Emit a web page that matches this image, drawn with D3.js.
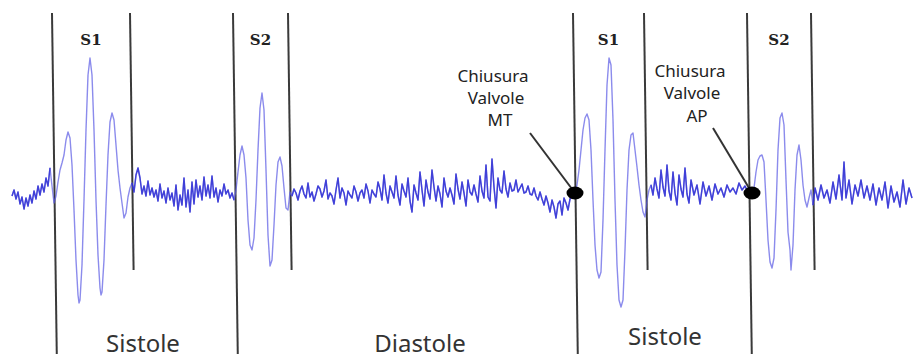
<!DOCTYPE html>
<html>
<head>
<meta charset="utf-8">
<script src="https://cdn.jsdelivr.net/npm/d3@7/dist/d3.min.js"></script>
<style>
  html, body { margin: 0; padding: 0; background: #fff; }
  svg { display: block; }
</style>
</head>
<body>
<svg id="pcg" width="914" height="358"></svg>
<script>
// Phonocardiogram trace: [time, amplitude] samples, split by cardiac phase.
const leadIn = [[12,-1],[14,5],[16,-4],[18,3],[20,-9],[22,-2],[24,-14],[26,-3],[28,-11],[30,0],[32,-8],[34,4],[36,-4],[38,9],[40,0],[42,11],[44,3],[46,17],[48,9],[50,27]];
const s1First = [[52,9],[54,-8],[56,-1],[58,13],[60,25],[62,32],[64,40],[66,55],[68,63],[70,57],[72,30],[74,-15],[76,-65],[78,-100],[79,-108],[80,-105],[82,-70],[84,-5],[86,65],[88,120],[90,137],[92,120],[94,65],[96,-5],[98,-60],[100,-93],[101,-100],[102,-97],[104,-65],[106,-10],[108,40],[110,73],[112,82],[114,75],[116,50],[118,25],[120,7],[122,-8],[124,-23],[126,-18],[128,-2],[130,7]];
const systoleNoiseFirst = [[132,12],[134,3],[136,20],[138,27],[140,17],[142,1],[144,9],[146,-1],[148,14],[150,0],[152,7],[154,-2],[156,5],[158,-6],[160,11],[162,-3],[164,4],[166,-8],[168,7],[170,-5],[172,2],[174,-11],[176,10],[178,-15],[180,0],[182,-10],[184,17],[186,-12],[188,5],[190,-17],[192,13],[194,-9],[196,15],[198,-2],[200,9],[202,-5],[204,18],[206,-1],[208,10],[210,-3],[212,19],[214,-2],[216,7],[218,-7],[220,5],[222,-1],[224,11],[226,1],[228,5],[230,-3],[232,2],[234,-5]];
const s2First = [[236,5],[238,23],[240,40],[242,49],[244,40],[246,17],[248,-25],[250,-50],[252,-55],[254,-43],[256,-5],[258,45],[260,87],[262,102],[264,85],[266,25],[268,-40],[270,-71],[272,-65],[274,-30],[276,10],[278,33],[280,38],[282,29],[284,7],[286,-13],[288,-15],[290,3]];
const diastoleNoise = [[292,-1],[294,6],[296,2],[298,-5],[300,4],[302,9],[304,1],[306,-3],[308,12],[310,-2],[312,3],[314,-6],[316,1],[318,9],[320,6],[322,-2],[324,4],[326,15],[328,-4],[330,2],[332,-1],[334,-9],[336,5],[338,17],[340,-3],[342,7],[344,2],[346,-10],[348,4],[350,0],[352,-3],[354,9],[356,3],[358,-6],[360,2],[362,5],[364,-3],[366,11],[368,4],[370,-8],[372,5],[374,1],[376,-2],[378,13],[380,6],[382,-5],[384,20],[386,2],[388,-8],[390,9],[392,3],[394,-3],[396,19],[398,0],[400,-10],[402,11],[404,4],[406,-2],[408,17],[410,-6],[412,-17],[414,10],[416,2],[418,-5],[420,23],[422,5],[424,-11],[426,15],[428,3],[430,-4],[432,25],[434,8],[436,-6],[438,9],[440,1],[442,-12],[444,17],[446,4],[448,-2],[450,7],[452,0],[454,-9],[456,21],[458,6],[460,-4],[462,13],[464,2],[466,-11],[468,15],[470,3],[472,0],[474,10],[476,1],[478,-7],[480,19],[482,4],[484,-3],[486,30],[488,-2],[490,-6],[492,36],[494,8],[496,-13],[498,17],[500,5],[502,2],[504,24],[506,6],[508,-2],[510,12],[512,4],[514,5],[516,15],[518,3],[520,7],[522,11],[524,2],[526,3],[528,9],[530,1],[532,0],[534,7],[536,-1],[538,-5],[540,3],[542,-4],[544,-10],[546,-1],[548,-8],[550,-17],[552,-5],[554,-12],[556,-23],[558,-9],[560,-6],[562,-20],[564,-3],[566,-8],[568,-15],[570,-4],[572,-1],[573,2]];
const s1Second = [[575,3],[577,10],[579,25],[581,45],[583,65],[585,77],[587,81],[589,75],[591,45],[593,-5],[595,-50],[597,-75],[599,-83],[601,-77],[603,-25],[605,45],[607,110],[609,137],[611,130],[613,75],[615,-5],[617,-70],[619,-105],[621,-112],[623,-105],[625,-55],[627,5],[629,45],[631,60],[633,62],[635,45],[637,28],[639,10],[641,-5],[643,-17],[645,-22],[647,-5],[649,5]];
const systoleNoiseSecond = [[651,10],[653,0],[655,17],[657,6],[659,-3],[661,25],[663,8],[665,-1],[667,30],[669,4],[671,-5],[673,23],[675,2],[677,-10],[679,20],[681,6],[683,-2],[685,27],[687,1],[689,-8],[691,15],[694,0],[697,10],[700,-9],[703,13],[706,-1],[709,9],[712,-5],[715,11],[718,1],[721,7],[724,-2],[727,10],[730,3],[733,7],[736,1],[739,12],[742,5],[745,9],[748,3],[750,1]];
const s2Second = [[752,2],[754,7],[756,23],[758,35],[760,39],[762,40],[764,33],[766,-5],[768,-45],[770,-67],[772,-73],[774,-63],[776,-15],[778,45],[780,77],[782,82],[784,70],[786,15],[788,-37],[790,-55],[791,-75],[793,-50],[795,5],[797,40],[799,50],[801,35],[803,10],[805,-5],[807,-12],[809,-3],[811,5]];
const tailNoise = [[813,-10],[815,7],[818,-5],[821,10],[824,-3],[827,5],[830,-8],[833,13],[836,-4],[839,20],[842,-5],[844,33],[846,-3],[849,15],[852,-9],[855,10],[858,-1],[861,15],[864,-3],[867,9],[870,-5],[873,11],[876,-10],[879,7],[882,-5],[885,13],[888,-13],[891,9],[894,-7],[897,3],[900,-12],[903,15],[906,-9],[909,7],[912,-3]];

// Phase boundaries (start/end of each heart sound) and their names.
const soundNames = ["S1", "S2", "S1", "S2"];
const soundStarts = [52, 233, 573, 747];
const soundEnds = [130, 288, 644, 811];

// Valve closure events marked on the trace.
const closureTimes = [575, 752];
const closureAmps = [2, 2];
const closureLabels = [["Chiusura", "Valvole", "MT"], ["Chiusura", "Valvole", "AP"]];

// Phase captions along the bottom.
const phaseNames = ["Sistole", "Diastole", "Sistole"];

// Quiet stretches (murmur-free noise) vs. the heart-sound bursts.
const quietParts = [leadIn, systoleNoiseFirst, diastoleNoise, systoleNoiseSecond, tailNoise];
const soundParts = [s1First, s2First, s1Second, s2Second];
const signal = [].concat(leadIn, s1First, systoleNoiseFirst, s2First, diastoleNoise,
                         s1Second, systoleNoiseSecond, s2Second, tailNoise);

const W = 914, H = 358;
const svg = d3.select("#pcg");

const x = d3.scaleLinear().domain([0, 914]).range([0, W]);
const y = d3.scaleLinear().domain([-163, 195]).range([H, 0]);

const defs = svg.append("defs");
defs.append("filter").attr("id", "soft")
  .append("feGaussianBlur").attr("stdDeviation", 0.45);

// Boundary markers: onsets reach to the bottom captions, ends stop lower on the trace.
const markerTop = 182, onsetBottom = -159, endBottom = -75, lean = 0.014;
const markers = [];
soundStarts.forEach(t => markers.push({ t, bottom: onsetBottom }));
soundEnds.forEach(t => markers.push({ t, bottom: endBottom }));

svg.append("g").selectAll("line").data(markers).join("line")
  .attr("x1", d => x(d.t))
  .attr("y1", y(markerTop))
  .attr("x2", d => x(d.t) + lean * (y(d.bottom) - y(markerTop)))
  .attr("y2", d => y(d.bottom))
  .attr("stroke", "#3a3a3a")
  .attr("stroke-width", 2);

// Trace: one continuous light stroke, with the noisy stretches inked darker.
const line = d3.line().x(d => x(d[0])).y(d => y(d[1]));
const trace = svg.append("g").attr("filter", "url(#soft)");
trace.append("path")
  .datum(signal)
  .attr("d", line)
  .attr("fill", "none")
  .attr("stroke", "#5a5ae4")
  .attr("stroke-opacity", 0.7)
  .attr("stroke-width", 1.4)
  .attr("stroke-linejoin", "round");
trace.selectAll("path.quiet").data(quietParts).join("path")
  .attr("class", "quiet")
  .attr("d", line)
  .attr("fill", "none")
  .attr("stroke", "#2a2ad2")
  .attr("stroke-opacity", 0.75)
  .attr("stroke-width", 1.5)
  .attr("stroke-linejoin", "round");

// Heart sound names above each segment
svg.append("g").selectAll("text").data(soundNames).join("text")
  .attr("x", (d, i) => x((soundStarts[i] + soundEnds[i]) / 2))
  .attr("y", 45)
  .attr("text-anchor", "middle")
  .attr("font-family", "'DejaVu Serif', 'Liberation Serif', serif")
  .attr("font-weight", "bold")
  .attr("font-size", 15)
  .attr("fill", "#222")
  .text(d => d);

// Phase captions
const captionPos = [[143, 352], [420, 352], [665, 345]];
svg.append("g").selectAll("text").data(phaseNames).join("text")
  .attr("x", (d, i) => captionPos[i][0])
  .attr("y", (d, i) => captionPos[i][1])
  .attr("text-anchor", "middle")
  .attr("font-family", "'Noto Sans', 'Open Sans', sans-serif")
  .attr("font-size", 24)
  .attr("fill", "#333")
  .text(d => d);

// Valve closure callouts
const calloutLayout = [
  { lines: [[493, 82], [496, 104], [500, 126]], from: [530, 133] },
  { lines: [[690, 77], [692, 99], [697, 122]], from: [713, 128] }
];
closureTimes.forEach((t, i) => {
  const g = svg.append("g");
  const lay = calloutLayout[i];
  const px = x(t), py = y(closureAmps[i]);
  g.append("line")
    .attr("x1", lay.from[0]).attr("y1", lay.from[1])
    .attr("x2", px).attr("y2", py)
    .attr("stroke", "#333").attr("stroke-width", 2);
  g.append("ellipse")
    .attr("cx", px).attr("cy", py)
    .attr("rx", 8.5).attr("ry", 6.5)
    .attr("fill", "#000");
  g.selectAll("text").data(closureLabels[i]).join("text")
    .attr("x", (d, j) => lay.lines[j][0])
    .attr("y", (d, j) => lay.lines[j][1])
    .attr("text-anchor", "middle")
    .attr("font-family", "'Noto Sans', 'Open Sans', sans-serif")
    .attr("font-size", 17)
    .attr("fill", "#222")
    .text(d => d);
});
</script>
</body>
</html>
